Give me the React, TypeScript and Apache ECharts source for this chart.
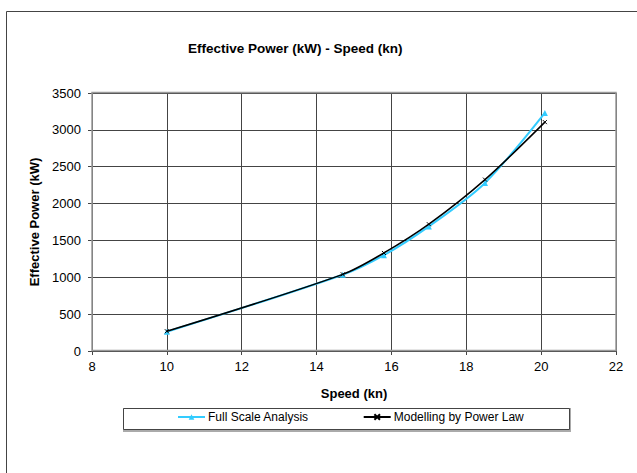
import React, { useEffect, useRef } from "react";
import * as echarts from "echarts";

const speedFull = [10, 14.7, 15.8, 17, 18.5, 20.1];
const powerFull = [262, 1035, 1300, 1690, 2280, 3230];
const speedModel = [10, 14.7, 15.8, 17, 18.5, 20.1];
const powerModel = [268, 1040, 1330, 1720, 2325, 3105];
const xTicks = [8, 10, 12, 14, 16, 18, 20, 22];
const yTicks = [0, 500, 1000, 1500, 2000, 2500, 3000, 3500];

const FONT = "'Liberation Sans', Arial, sans-serif";

export default function App() {
  const ref = useRef<HTMLDivElement>(null);
  useEffect(() => {
    document.body.style.margin = "0";
    if (!ref.current) return;
    const chart = echarts.init(ref.current, null, { renderer: "svg" });
    chart.setOption({
      animation: false,
      backgroundColor: "#ffffff",
      textStyle: { fontFamily: FONT },
      title: {
        text: "Effective Power (kW) - Speed (kn)",
        left: 183,
        top: 36,
        textStyle: { fontFamily: FONT, fontSize: 13.5, fontWeight: "bold", color: "#000" },
      },
      grid: { left: 92, top: 93, right: 21, bottom: 122, containLabel: false },
      xAxis: {
        type: "value",
        min: xTicks[0],
        max: xTicks[xTicks.length - 1],
        interval: 2,
        name: "Speed (kn)",
        nameLocation: "middle",
        nameGap: 36,
        nameTextStyle: { fontFamily: FONT, fontSize: 13, fontWeight: "bold", color: "#000" },
        axisLine: { show: true, lineStyle: { color: "#444", width: 1 } },
        axisTick: { show: true, length: 4, lineStyle: { color: "#444" } },
        axisLabel: { margin: 9, fontFamily: FONT, fontSize: 13, color: "#000" },
        splitLine: { show: true, lineStyle: { color: "#444", width: 1 } },
      },
      yAxis: {
        type: "value",
        min: yTicks[0],
        max: yTicks[yTicks.length - 1],
        interval: 500,
        name: "Effective Power (kW)",
        nameLocation: "middle",
        nameGap: 41,
        nameTextStyle: { fontFamily: FONT, fontSize: 13, fontWeight: "bold", color: "#000" },
        axisLine: { show: true, lineStyle: { color: "#444", width: 1 } },
        axisTick: { show: true, length: 4, lineStyle: { color: "#444" } },
        axisLabel: {
          margin: 11,
          fontFamily: FONT,
          fontSize: 13,
          color: "#000",
          formatter: (v: number) => String(v),
        },
        splitLine: { show: true, lineStyle: { color: "#444", width: 1 } },
      },
      legend: {
        left: 177,
        top: 411,
        itemWidth: 27,
        itemHeight: 7,
        itemGap: 54,
        padding: 0,
        textStyle: { fontFamily: FONT, fontSize: 12, color: "#000", padding: [0, 0, 0, -2] },
        data: ["Full Scale Analysis", "Modelling by Power Law"],
      },
      graphic: [
        {
          type: "rect",
          shape: { x: 6.5, y: 11.5, width: 700, height: 600 },
          style: { fill: "none", stroke: "#444", lineWidth: 1 },
          silent: true,
          z: -10,
        },
        {
          type: "rect",
          shape: { x: 92, y: 92.5, width: 524, height: 258 },
          style: { fill: "none", stroke: "#999", lineWidth: 1.5 },
          silent: true,
          z: 10,
        },
        {
          type: "rect",
          shape: { x: 124, y: 409, width: 446, height: 22 },
          style: { fill: "none", stroke: "#aaa", lineWidth: 2 },
          silent: true,
        },
        {
          type: "rect",
          shape: { x: 123.5, y: 408.5, width: 446, height: 21 },
          style: { fill: "#fff", stroke: "#444", lineWidth: 1 },
          silent: true,
        },
      ],
      series: [
        {
          name: "Full Scale Analysis",
          type: "line",
          smooth: 0.3,
          data: speedFull.map((s, i) => [s, powerFull[i]]),
          symbol: "triangle",
          symbolSize: 6,
          lineStyle: { color: "#33CCFF", width: 2 },
          itemStyle: { color: "#33CCFF" },
          z: 3,
        },
        {
          name: "Modelling by Power Law",
          type: "line",
          smooth: 0.3,
          data: speedModel.map((s, i) => [s, powerModel[i]]),
          symbol: "path://M0,0L10,10M10,0L0,10",
          symbolSize: 4,
          lineStyle: { color: "#000", width: 1.5 },
          itemStyle: { color: "#000", borderColor: "#000", borderWidth: 1 },
          z: 4,
        },
      ],
    });
    return () => chart.dispose();
  }, []);
  return <div ref={ref} style={{ width: 637, height: 473 }} />;
}
